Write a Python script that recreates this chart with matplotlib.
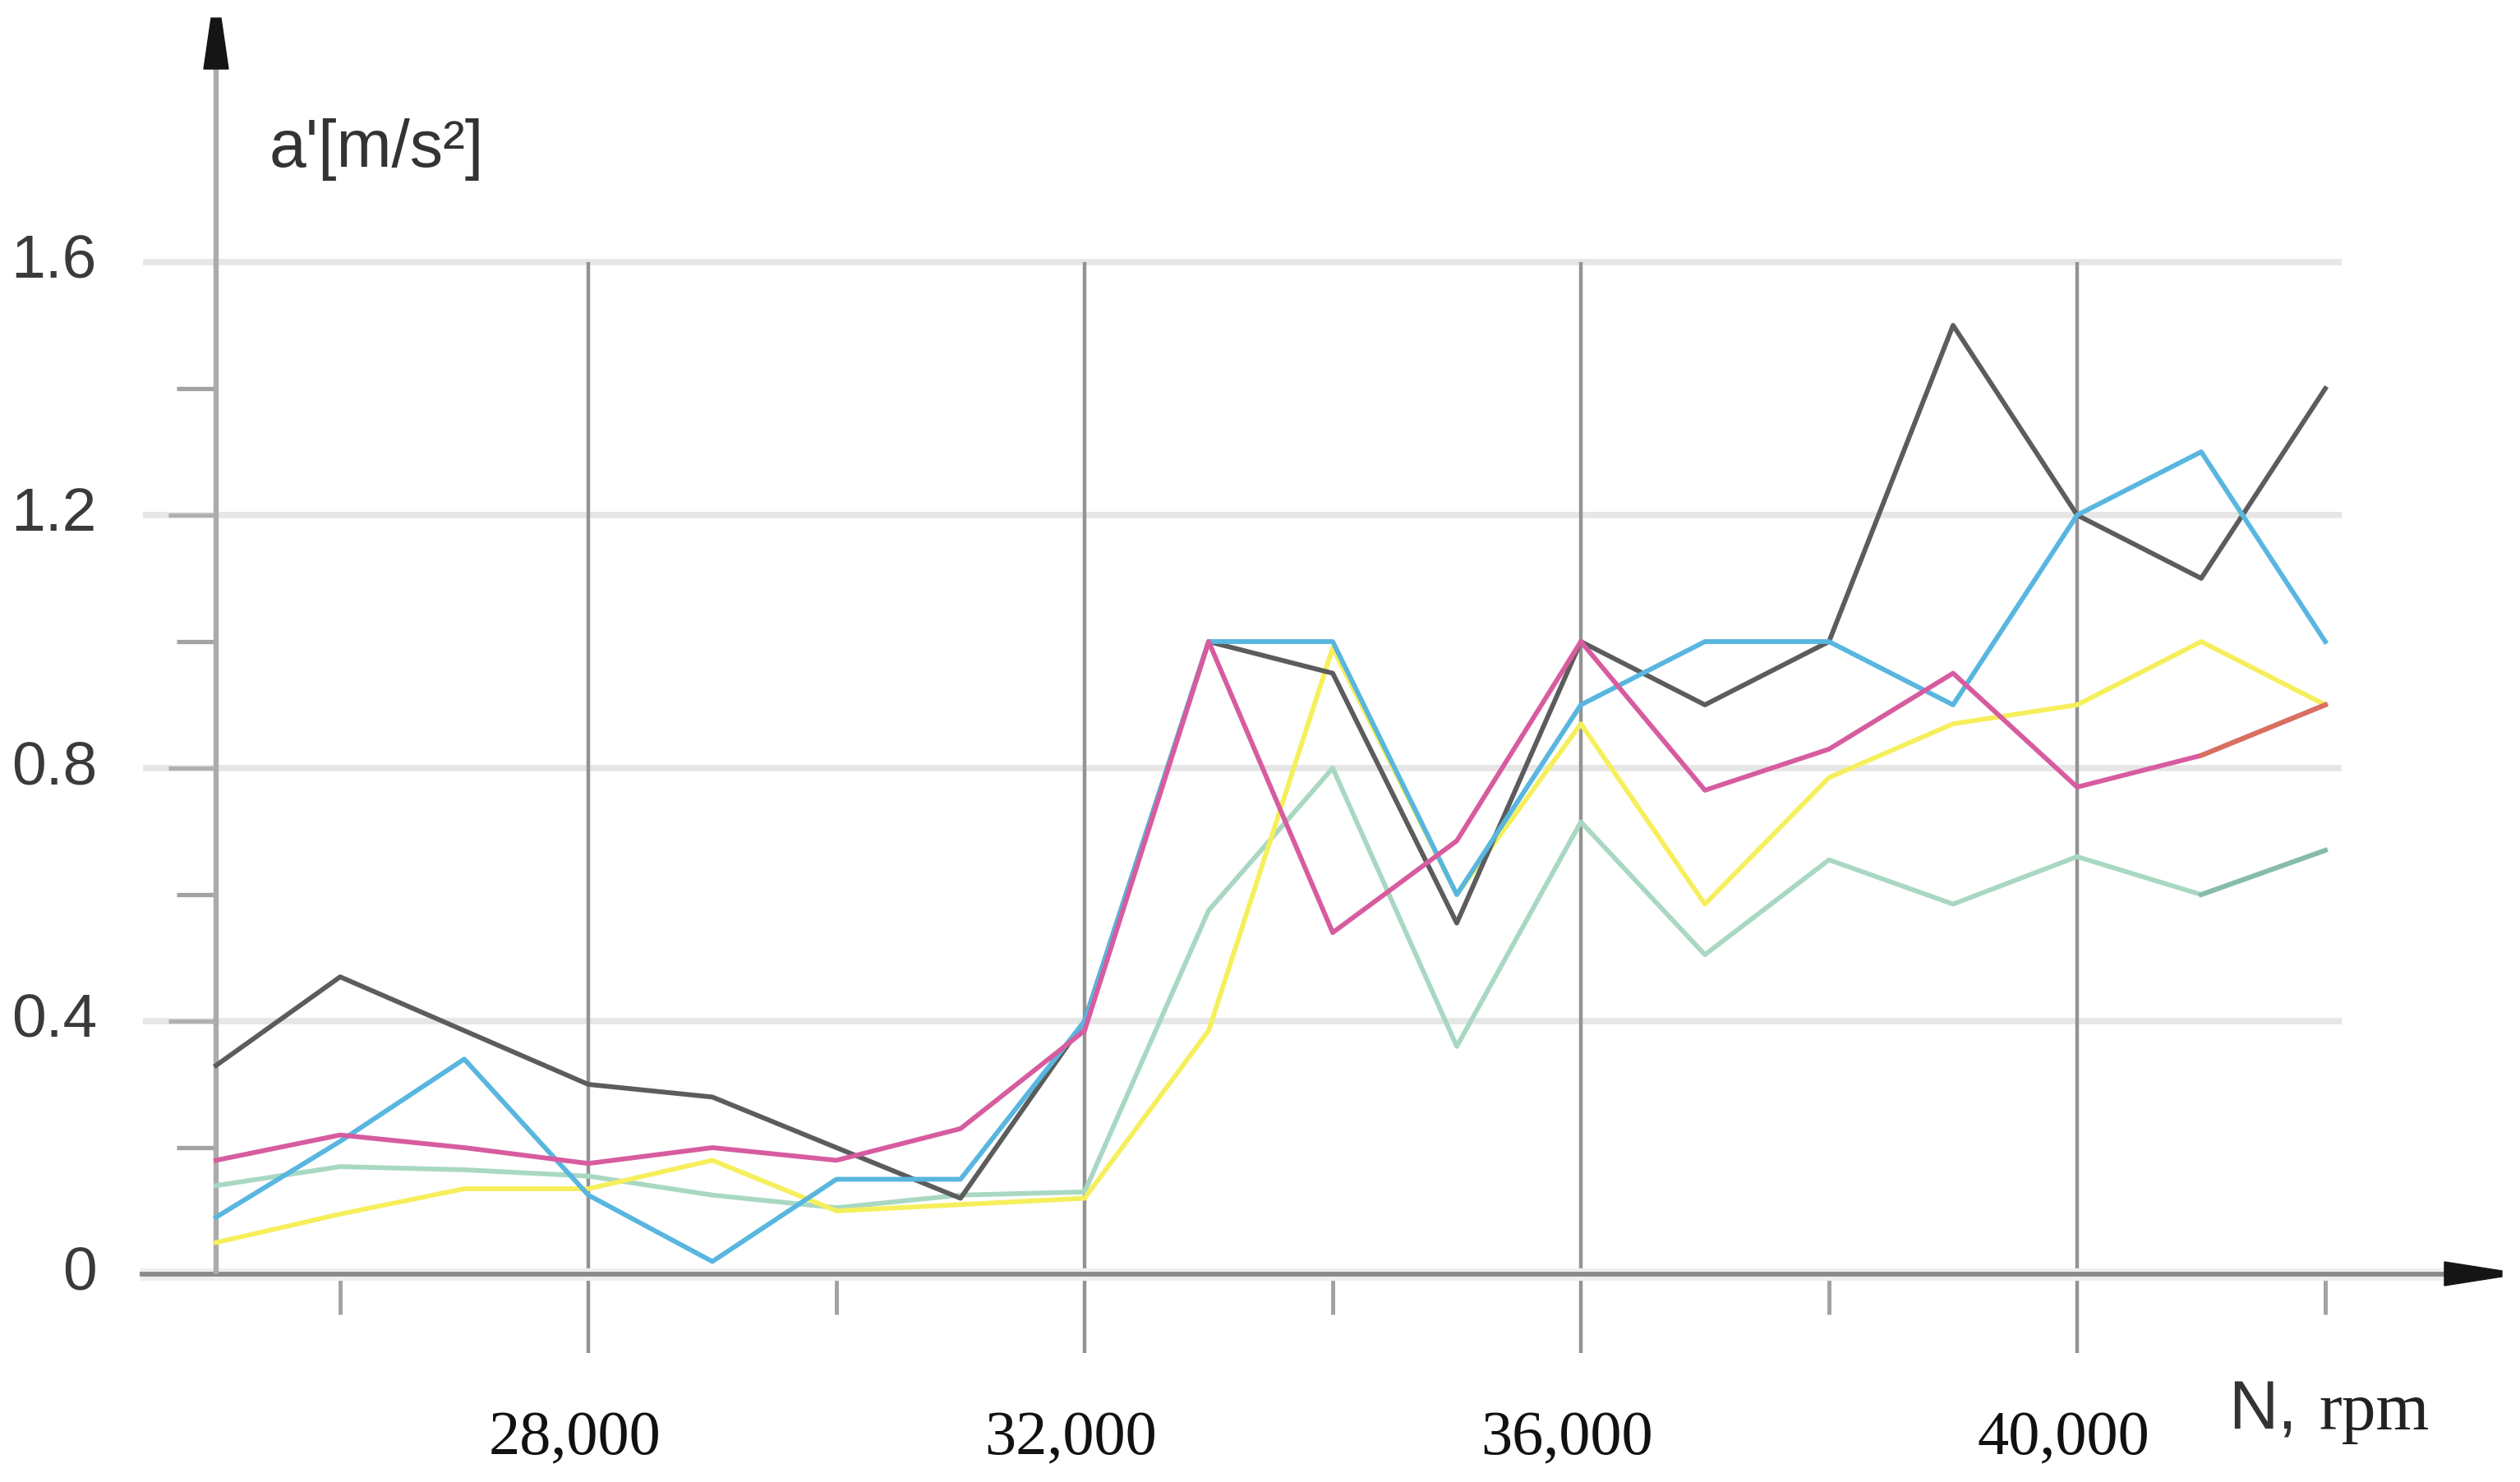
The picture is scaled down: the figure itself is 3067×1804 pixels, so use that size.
import matplotlib
matplotlib.use("Agg")
import matplotlib.pyplot as plt
from matplotlib.patches import Polygon

# ---------------- data ----------------
rpm = [25000, 26000, 27000, 28000, 29000, 30000, 31000, 32000, 33000,
       34000, 35000, 36000, 37000, 38000, 39000, 40000, 41000, 42000]

series_black = [0.33, 0.47, 0.385, 0.30, 0.28, 0.20, 0.12, 0.40, 1.00,
                0.95, 0.555, 1.00, 0.90, 1.00, 1.50, 1.20, 1.10, 1.40]
series_cyan = [0.09, 0.21, 0.34, 0.125, 0.02, 0.15, 0.15, 0.40, 1.00,
               1.00, 0.60, 0.90, 1.00, 1.00, 0.90, 1.20, 1.30, 1.00]
series_magenta = [0.18, 0.22, 0.20, 0.175, 0.20, 0.18, 0.23, 0.385, 1.00,
                  0.54, 0.685, 1.00, 0.765, 0.83, 0.95, 0.77, 0.82, 0.90]
series_yellow = [0.05, 0.095, 0.135, 0.135, 0.18, 0.10, 0.11, 0.12, 0.385,
                 0.99, 0.60, 0.87, 0.585, 0.785, 0.87, 0.90, 1.00, 0.90]
series_green = [0.14, 0.17, 0.165, 0.155, 0.125, 0.105, 0.125, 0.13, 0.575,
                0.80, 0.36, 0.715, 0.505, 0.655, 0.585, 0.66, 0.60, 0.67]

y_major = [0.4, 0.8, 1.2, 1.6]
y_minor = [0.2, 0.6, 1.0, 1.4]
y_labels = ["0.4", "0.8", "1.2", "1.6"]
x_major = [28000, 32000, 36000, 40000]
x_minor = [26000, 30000, 34000, 38000, 42000]
x_labels = ["28,000", "32,000", "36,000", "40,000"]

# ---------------- figure geometry ----------------
W, H = 3067, 1804
X0PX, PXK = 263.0, 151.0      # pixel of 25000 rpm, pixels per 1000 rpm
Y0PX, PXU = 1551.0, 770.0     # pixel of 0, pixels per unit


def px2x(px):
    return 25000 + (px - X0PX) / PXK * 1000


def py2y(py):
    return (Y0PX - py) / PXU


fig = plt.figure(figsize=(W / 100, H / 100), dpi=100)
ax = fig.add_axes([0, 0, 1, 1])
ax.set_xlim(px2x(0), px2x(W))
ax.set_ylim(py2y(H), py2y(0))
ax.axis("off")

# horizontal gridlines
for v in y_major:
    ax.plot([px2x(174), px2x(2850)], [v, v], color="#e6e6e6", lw=5.5,
            solid_capstyle="butt", zorder=1)

# vertical gridlines
for xv in x_major:
    ax.plot([xv, xv], [py2y(1647), 1.6], color="#939393", lw=3.2,
            solid_capstyle="butt", zorder=2)

# x minor ticks
for xv in x_minor:
    ax.plot([xv, xv], [py2y(1600), 0], color="#a3a3a3", lw=3.6,
            solid_capstyle="butt", zorder=2)

# y ticks
for v in y_minor:
    ax.plot([px2x(215), 25000], [v, v], color="#a3a3a3", lw=3.8,
            solid_capstyle="butt", zorder=2)
for v in y_major[:-1]:
    ax.plot([px2x(205), 25000], [v, v], color="#b0b0b0", lw=3.8,
            solid_capstyle="butt", zorder=2)

# x axis
ax.plot([px2x(170), px2x(2985)], [0, 0], color="#efefef", lw=11,
        solid_capstyle="butt", zorder=2)
ax.plot([px2x(170), px2x(2985)], [0, 0], color="#8a8a8a", lw=4.2,
        solid_capstyle="butt", zorder=3)
# y axis
ax.plot([25000, 25000], [0, py2y(80)], color="#ababab", lw=4.6,
        solid_capstyle="butt", zorder=3)

# arrow heads
ax.add_patch(Polygon([(px2x(X0PX - 15), py2y(84)), (px2x(X0PX + 15), py2y(84)),
                      (px2x(X0PX + 6), py2y(22)), (px2x(X0PX - 6), py2y(22))],
                     closed=True, color="#151515", zorder=6))
ax.add_patch(Polygon([(px2x(2975), py2y(1536)), (px2x(2975), py2y(1565)),
                      (px2x(3045), py2y(1554)), (px2x(3045), py2y(1547))],
                     closed=True, color="#151515", zorder=6))

# data lines
lw = 4.2
ax.plot(rpm, series_green, color="#a9d8c2", lw=lw, zorder=5)
ax.plot(rpm[-2:], series_green[-2:], color="#86bcaa", lw=lw, zorder=5)
ax.plot(rpm, series_yellow, color="#f6ef5c", lw=lw, zorder=5)
ax.plot(rpm, series_black, color="#5c5c5c", lw=lw, zorder=5)
ax.plot(rpm, series_cyan, color="#58b6df", lw=lw, zorder=5)
ax.plot(rpm, series_magenta, color="#d75c9f", lw=lw, zorder=5)
ax.plot(rpm[-2:], series_magenta[-2:], color="#d9705f", lw=lw, zorder=5)

# y tick labels
sans = ["Liberation Sans", "DejaVu Sans"]
serif = ["Liberation Serif", "DejaVu Serif"]
for v, s in zip([0] + y_major, ["0"] + y_labels):
    ax.text(px2x(118), v, s, ha="right", va="center", fontsize=54,
            family=sans, color="#3a3a3a")

# x tick labels
for xv, s in zip(x_major, x_labels):
    ax.text(xv - 110, py2y(1752), s, ha="center", va="center", fontsize=55,
            family=serif, color="#111111")

# axis labels
ax.text(px2x(328), py2y(203), "a'[m/s²]", ha="left", va="baseline",
        fontsize=58, family=sans, color="#333333")
ax.text(px2x(2712), py2y(1740), "N,", ha="left", va="baseline",
        fontsize=60, family=sans, color="#333333")
ax.text(px2x(2822), py2y(1740), "rpm", ha="left", va="baseline",
        fontsize=60, family=serif, color="#222222")

fig.savefig("out.png", dpi=100, facecolor="white")
